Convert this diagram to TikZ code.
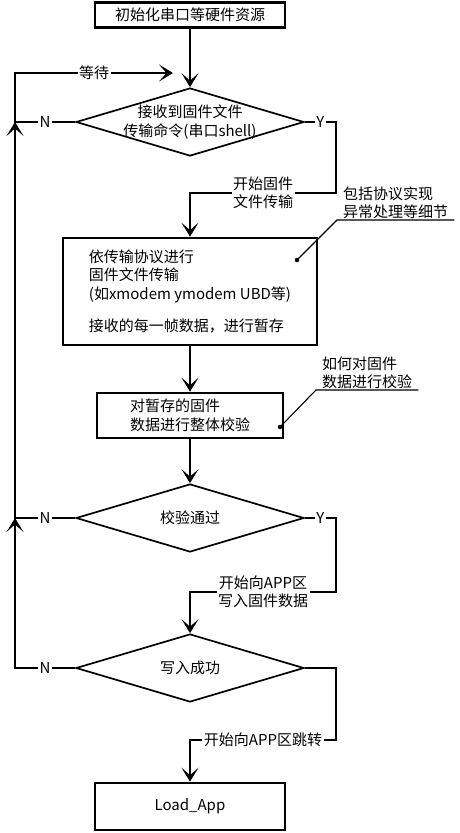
\documentclass[tikz,border=0pt]{standalone}
\usepackage{fontspec}
\setmainfont{Noto Sans CJK SC}
\usepackage{tikz}
\usetikzlibrary{shapes.geometric,arrows.meta}

\begin{document}
\begin{tikzpicture}[x=1pt,y=-1pt,
  box/.style={draw,line width=2.6pt,inner sep=0pt,font=\fontsize{15}{18.5}\selectfont},
  decision/.style={draw,diamond,line width=1.7pt,minimum width=228pt,minimum height=68pt,inner sep=0pt,aspect=3.35},
  arrow/.style={line width=1.7pt,-{Stealth[length=14pt,width=17pt,inset=7.5pt]}},
  lbl/.style={fill=white,inner xsep=1.5pt,inner ysep=0pt,align=center,font=\fontsize{15}{18.5}\selectfont},
  note/.style={align=left,inner xsep=6pt,inner ysep=1pt,font=\fontsize{15}{18.5}\selectfont},
  pin/.style={line width=1.1pt}]
\useasboundingbox (0,0) rectangle (460,833);

\node[box,minimum width=190pt,minimum height=25pt] at(190,15) (init) {初始化串口等硬件资源};

\node[decision,label={[lbl,fill=none]center:接收到固件文件\\传输命令(串口shell)}] at(190,122) (recv) {};

\node[box,minimum width=254pt,minimum height=107pt,align=left] at(190,291.5) (xfer) {依传输协议进行\\固件文件传输\\(如xmodem ymodem UBD等)\\[14pt]接收的每一帧数据，进行暂存};

\node[box,minimum width=186pt,minimum height=45pt,align=left] at(190,415.5) (verify) {对暂存的固件\\数据进行整体校验};

\node[decision,label={[lbl,fill=none]center:校验通过}] at(190,518) (check) {};
\node[decision,label={[lbl,fill=none]center:写入成功}] at(190,668) (write) {};

\node[box,minimum width=190pt,minimum height=47pt] at(190,806.5) (app) {Load\_App};


\node[note,anchor=south west] at(337,220) (info1) {包括协议实现\\异常处理等细节};
\node[note,anchor=south west] at(316,390) (info2) {如何对固件\\数据进行校验};


\coordinate (lpath) at (15,73);
\coordinate (wait) at (173,73);
\coordinate (ry1) at (336,193);
\coordinate (ry2) at (336,592);
\coordinate (ry3) at (336,740);
\coordinate (dot1) at (297,260);
\coordinate (dot2) at (280,427);


\draw [arrow] (init.south) -- (recv.north);
\draw [arrow] (xfer.south) -- (verify.north);
\draw [arrow] (verify.south) -- (check.north);


\draw [arrow] (recv.west) -- node[lbl]{N} (recv.west -| lpath) -- (lpath) -- node[lbl]{等待} (wait);
\draw [arrow] (check.west) -- node[lbl]{N} (check.west -| lpath) -- (recv.west -| lpath);
\draw [arrow] (write.west) -- node[lbl]{N} (write.west -| lpath) -- (check.west -| lpath);


\draw [arrow] (recv.east) -- node[lbl]{Y} (recv.east -| ry1) -- (ry1) -- node[lbl]{开始固件\\文件传输} (ry1 -| xfer.north) -- (xfer.north);
\draw [arrow] (check.east) -- node[lbl]{Y} (check.east -| ry2) -- (ry2) -- node[lbl]{开始向APP区\\写入固件数据} (ry2 -| write.north) -- (write.north);
\draw [arrow] (write.east) -- (write.east -| ry3) -- (ry3) -- node[lbl]{开始向APP区跳转} (ry3 -| app.north) -- (app.north);


\draw [pin] (info1.south east) -- (info1.south west) -- (dot1);
\draw [pin] (info2.south east) -- (info2.south west) -- (dot2);
\filldraw [black] (dot1) circle (2pt);
\filldraw [black] (dot2) circle (2pt);
\end{tikzpicture}
\end{document}
